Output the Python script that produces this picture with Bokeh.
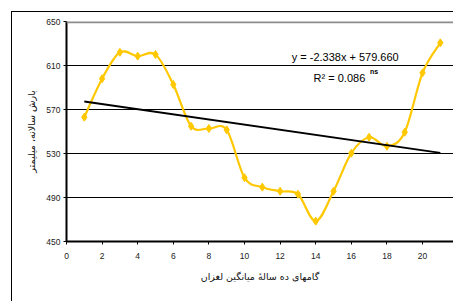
from bokeh.plotting import figure
from bokeh.embed import file_html
from bokeh.resources import INLINE
from bokeh.models import Span, FixedTicker, Range1d
from bokeh.core.properties import value

# ---- data ----
steps = list(range(1, 22))
rain = [563, 598, 622, 618.5, 620, 592.7, 554.8, 552.7, 551.5, 508, 499.4,
        495.7, 493, 468.5, 495.7, 530.3, 544.8, 536.6, 549.4, 603.3, 630.6]
slope = -2.338
intercept = 579.660
trend_x = [1, 21]
y_ticks = [450, 490, 530, 570, 610, 650]
x_ticks = [0, 2, 4, 6, 8, 10, 12, 14, 16, 18, 20, 22]
eq_text = "y = -2.338x + 579.660"
r2_text = "R² = 0.086"
ns_text = "ns"
x_label = "گامهای ده سالهٔ میانگین لغزان"
y_label = "بارش سالانه، میلیمتر"

YELLOW = "#FFC800"

# outer chart-area border drawn as host background lines (left and top)
host_styles = {
    "background-color": "white",
    "background-image": "linear-gradient(#000, #000), linear-gradient(#000, #000)",
    "background-size": "1px 290px, 442px 1px",
    "background-position": "11px 11px, 11px 11px",
    "background-repeat": "no-repeat",
}

p = figure(width=453, height=301, output_backend="svg", toolbar_location=None,
           x_range=Range1d(0, 21.74), y_range=Range1d(450, 650),
           min_border_left=66, min_border_right=0, min_border_top=21,
           min_border_bottom=60, styles=host_styles)
p.outline_line_color = None
p.background_fill_color = "white"
p.border_fill_color = None

# grid
p.xgrid.grid_line_color = None
p.ygrid.grid_line_color = "black"
p.ygrid.grid_line_width = 1
p.ygrid.ticker = FixedTicker(ticks=y_ticks)

# axes
for ax in (p.xaxis[0], p.yaxis[0]):
    ax.axis_line_color = "black"
    ax.axis_line_width = 2
    ax.major_tick_line_color = "black"
    ax.major_tick_in = 0
    ax.major_tick_out = 3
    ax.minor_tick_line_color = None
    ax.major_label_text_font = "Liberation Sans"
    ax.major_label_text_font_size = "8.5px"
    ax.major_label_text_color = "#222222"
    ax.axis_label_text_font = "DejaVu Sans"
    ax.axis_label_text_font_style = "normal"
    ax.axis_label_text_font_size = "9.5px"
    ax.axis_label_text_color = "#111111"

p.xaxis.ticker = FixedTicker(ticks=x_ticks)
p.yaxis.ticker = FixedTicker(ticks=y_ticks)
p.xaxis.major_label_standoff = 8
p.yaxis.major_label_standoff = 3
p.xaxis.axis_label = x_label
p.yaxis.axis_label = y_label
p.xaxis.axis_label_standoff = 9
p.yaxis.axis_label_standoff = 6

# top gray border line of the plot area
p.add_layout(Span(location=650, dimension="width", line_color="#8c8c8c", line_width=3.5))

# smoothed curve (Catmull-Rom -> cubic bezier)
n = len(steps)
x0, y0, x1, y1, cx0, cy0, cx1, cy1 = [], [], [], [], [], [], [], []
for i in range(n - 1):
    pa = max(i - 1, 0)
    pb = min(i + 2, n - 1)
    x0.append(steps[i]); y0.append(rain[i])
    x1.append(steps[i + 1]); y1.append(rain[i + 1])
    cx0.append(steps[i] + (steps[i + 1] - steps[pa]) / 6.0)
    cy0.append(rain[i] + (rain[i + 1] - rain[pa]) / 6.0)
    cx1.append(steps[i + 1] - (steps[pb] - steps[i]) / 6.0)
    cy1.append(rain[i + 1] - (rain[pb] - rain[i]) / 6.0)
p.bezier(x0=x0, y0=y0, x1=x1, y1=y1, cx0=cx0, cy0=cy0, cx1=cx1, cy1=cy1,
         line_color=YELLOW, line_width=2.2)
p.scatter(steps, rain, marker="diamond", size=8, fill_color=YELLOW, line_color=YELLOW)

# trend line
trend_y = [slope * x + intercept for x in trend_x]
p.line(trend_x, trend_y, line_color="black", line_width=2)

# equation texts
p.text(x=[12.65], y=[617.5], text=[eq_text], text_font=value("Liberation Sans"),
       text_font_size="11px", text_color="black", text_baseline="alphabetic")
p.text(x=[13.88], y=[598.5], text=[r2_text], text_font=value("Liberation Sans"),
       text_font_size="11px", text_color="black", text_baseline="alphabetic")
p.text(x=[17.05], y=[604.5], text=[ns_text], text_font=value("Liberation Sans"),
       text_font_size="7px", text_font_style="bold", text_color="black", text_baseline="alphabetic")

open("out.html", "w").write(file_html(p, INLINE))
